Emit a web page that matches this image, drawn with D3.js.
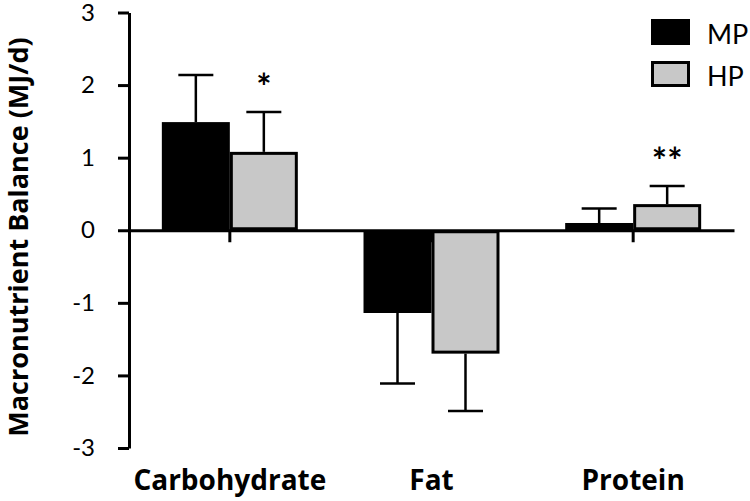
<!DOCTYPE html>
<html>
<head>
<meta charset="utf-8">
<script src="https://cdn.jsdelivr.net/npm/d3@7"></script>
<style>
  html, body { margin: 0; padding: 0; background: #fff; }
  svg { display: block; }
  text { font-family: Lato, "Open Sans", sans-serif; fill: #000; }
  .bold { font-family: "Open Sans", Lato, sans-serif; font-weight: bold; }
</style>
</head>
<body>
<svg id="chart" width="750" height="501"></svg>
<script>
const categories = ["Carbohydrate", "Fat", "Protein"];
const groups = ["MP", "HP"];
const mpValues = [1.49, -1.14, 0.10];
const mpErrors = [0.65, 0.97, 0.20];
const hpValues = [1.08, -1.70, 0.36];
const hpErrors = [0.55, 0.79, 0.25];
const yTicks = [-3, -2, -1, 0, 1, 2, 3];
const significance = [
  { category: "Carbohydrate", group: "HP", label: "*" },
  { category: "Protein", group: "HP", label: "**" }
];
const yTitle = "Macronutrient Balance (MJ/d)";

const colors = { MP: "#000000", HP: "#c8c8c8" };

const data = [];
categories.forEach((c, i) => {
  data.push({ category: c, group: "MP", value: mpValues[i], error: mpErrors[i] });
  data.push({ category: c, group: "HP", value: hpValues[i], error: hpErrors[i] });
});

const svg = d3.select("#chart");
const plotLeft = 129, plotRight = 734, plotTop = 12.5, plotBottom = 448;

const y = d3.scaleLinear().domain([-3, 3]).range([plotBottom, plotTop]);
const x = d3.scaleBand().domain(categories).range([plotLeft, plotRight]).paddingInner(0).paddingOuter(0);
const xSub = d3.scaleBand().domain(groups).range([0, x.bandwidth()]).paddingInner(0).paddingOuter(0.483);

const g = svg.append("g");

// error bars (one-sided, outward)
const eb = g.append("g").selectAll("g").data(data).join("g");
eb.append("line")
  .attr("x1", d => x(d.category) + xSub(d.group) + xSub.bandwidth() / 2)
  .attr("x2", d => x(d.category) + xSub(d.group) + xSub.bandwidth() / 2)
  .attr("y1", d => y(d.value))
  .attr("y2", d => y(d.value >= 0 ? d.value + d.error : d.value - d.error))
  .attr("stroke", "#000").attr("stroke-width", 2.5);
eb.append("line")
  .attr("x1", d => x(d.category) + xSub(d.group) + xSub.bandwidth() / 2 - 17.5)
  .attr("x2", d => x(d.category) + xSub(d.group) + xSub.bandwidth() / 2 + 17.5)
  .attr("y1", d => y(d.value >= 0 ? d.value + d.error : d.value - d.error))
  .attr("y2", d => y(d.value >= 0 ? d.value + d.error : d.value - d.error))
  .attr("stroke", "#000").attr("stroke-width", 2.5);

// bars
g.append("g").selectAll("rect").data(data).join("rect")
  .attr("x", d => x(d.category) + xSub(d.group) + (d.group === "HP" ? 1.5 : 0))
  .attr("width", d => xSub.bandwidth() - (d.group === "HP" ? 3 : 0))
  .attr("y", d => Math.min(y(d.value), y(0)) + (d.group === "HP" ? 1.5 : 0))
  .attr("height", d => Math.abs(y(d.value) - y(0)) - (d.group === "HP" ? 3 : 0))
  .attr("fill", d => colors[d.group])
  .attr("stroke", d => d.group === "HP" ? "#000" : "none")
  .attr("stroke-width", 3);

// y axis
const yAxis = g.append("g")
  .attr("transform", `translate(${plotLeft},0)`)
  .call(d3.axisLeft(y).tickValues(yTicks).tickSize(11).tickSizeOuter(0).tickPadding(23).tickFormat(d => String(d)));
yAxis.select(".domain").attr("stroke-width", 3);
yAxis.selectAll(".tick line").attr("stroke-width", 3);
yAxis.selectAll(".tick text")
  .style("font-family", "Lato, 'Open Sans', sans-serif")
  .attr("font-size", 24).attr("fill", "#000");

// x axis at zero
const xAxis = g.append("g")
  .attr("transform", `translate(0,${y(0)})`)
  .call(d3.axisBottom(x).tickSize(12).tickSizeOuter(0).tickFormat(""));
xAxis.select(".domain").attr("stroke-width", 3);
xAxis.selectAll(".tick line").attr("stroke-width", 3);

// category labels
g.append("g").selectAll("text").data(categories).join("text")
  .attr("class", "bold")
  .attr("x", d => x(d) + x.bandwidth() / 2)
  .attr("y", 490)
  .attr("text-anchor", "middle")
  .attr("font-size", 28)
  .text(d => d);

// significance
g.append("g").selectAll("text").data(significance).join("text")
  .attr("x", d => x(d.category) + xSub(d.group) + xSub.bandwidth() / 2)
  .attr("y", d => {
    const r = data.find(e => e.category === d.category && e.group === d.group);
    return y(r.value + r.error) - 12;
  })
  .attr("text-anchor", "middle")
  .attr("font-size", 36).attr("font-weight", "bold")
  .text(d => d.label);

// y title
svg.append("text")
  .attr("class", "bold")
  .attr("transform", `translate(28,237) rotate(-90)`)
  .attr("text-anchor", "middle")
  .attr("font-size", 27)
  .text(yTitle);

// legend
const legend = svg.append("g").selectAll("g").data(groups).join("g")
  .attr("transform", (d, i) => `translate(651,${19 + i * 42})`);
legend.append("rect")
  .attr("x", d => d === "HP" ? 1.5 : 0)
  .attr("y", d => d === "HP" ? 1.5 : 0)
  .attr("width", d => d === "HP" ? 36 : 39)
  .attr("height", d => d === "HP" ? 23 : 26)
  .attr("fill", d => colors[d])
  .attr("stroke", d => d === "HP" ? "#000" : "none")
  .attr("stroke-width", 3);
legend.append("text")
  .attr("x", 56).attr("y", 25)
  .attr("font-size", 27)
  .text(d => d);
</script>
</body>
</html>
